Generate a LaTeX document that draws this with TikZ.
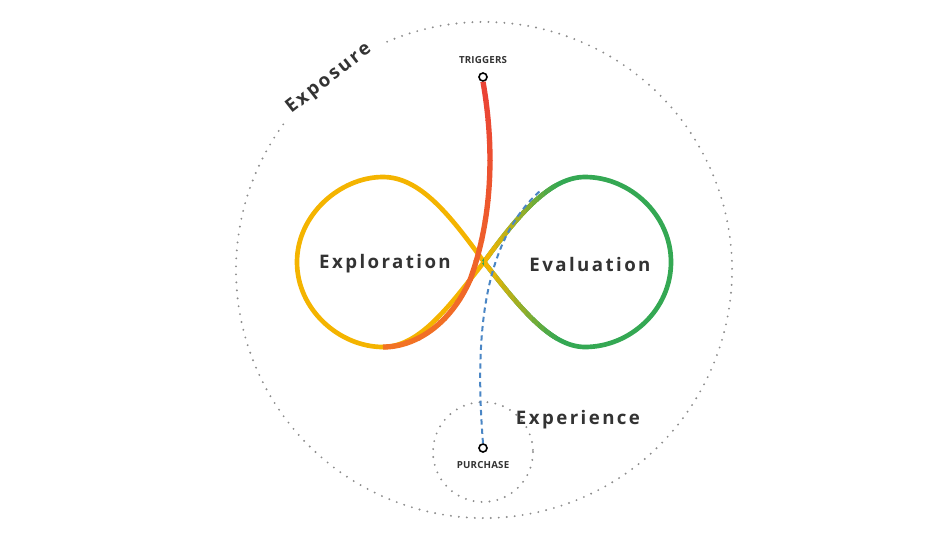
\documentclass[tikz,border=0pt]{standalone}
\usepackage{fontspec}
\usetikzlibrary{positioning}
\setmainfont{Open Sans}
\newfontfamily\lab[LetterSpace=13]{Open Sans}
\newfontfamily\smalllab[LetterSpace=2]{Open Sans}
\definecolor{gy}{HTML}{F4B400}
\definecolor{gg}{HTML}{34A853}
\definecolor{gr}{HTML}{EA4335}
\definecolor{go}{HTML}{F4801F}
\definecolor{gb}{HTML}{4A86C5}
\definecolor{tx}{HTML}{333333}
\tikzset{
  dots/.style={gray!90, line width=1.6pt, line cap=round, dash pattern=on 0pt off 6pt},
  big/.style={font=\lab\bfseries\fontsize{14}{16}\selectfont, text=tx},
  small/.style={font=\smalllab\bfseries\fontsize{7.3}{8}\selectfont, text=tx},
  endpt/.style={circle, draw=black, fill=white, line width=1.2pt, inner sep=0pt, minimum size=6pt},
}
\begin{document}
\begin{tikzpicture}[x=0.75pt,y=-0.75pt]
\useasboundingbox (0,0) rectangle (945,533);
\coordinate (C) at (484,270);
\coordinate (X) at (484,262);
% big dotted circle with gap
\draw[dots] (C) ++(-113:248) arc[start angle=-113,end angle=217,radius=248];
\node[big, rotate=38] (expo) at (329,79) {Exposure};
% small circle
\coordinate (S) at (483,452);
\draw[dots] (S) circle[radius=50];
% infinity
\def\rightloop{(X) .. controls (518,305) and (550,347) .. (585,347) .. controls (630,347) and (671,310) .. (671,262) .. controls (671,215) and (630,177) .. (585,177) .. controls (550,177) and (518,215) .. (X)}
\draw[gy, line width=3.5pt] (X) .. controls (450,215) and (420,177) .. (383,177) .. controls (340,177) and (297,215) .. (297,262) .. controls (297,310) and (340,347) .. (383,347) .. controls (420,347) and (450,305) .. (X);
\draw[gg, line width=3.5pt] \rightloop;
\foreach \i in {0,...,11}{
  \pgfmathsetmacro{\m}{100-\i*8.5}
  \begin{scope}
    \clip (484+\i*6,150) rectangle (490.5+\i*6,370);
    \draw[gy!\m!gg, line width=3.5pt] \rightloop;
  \end{scope}
}
% triggers red curve
\node[endpt] (trig) at (483,77) {};
\node[small, above=3pt of trig.north, anchor=south] (tl) {TRIGGERS};
\foreach \i in {0,...,13}{
  \pgfmathsetmacro{\m}{100-\i*6}
  \begin{scope}
    \clip (300,80+\i*20) rectangle (520,100.5+\i*20);
    \draw[gr!\m!go, line width=4pt] (trig.south) .. controls (495,150) and (492,220) .. (470,280) .. controls (450,325) and (415,347) .. (383,347);
  \end{scope}
}
% purchase blue dashed
\node[endpt] (pur) at (483,448) {};
\node[small, below=3pt of pur.south, anchor=north] (pl) {PURCHASE};
\coordinate (bend) at (540,191);
\draw[gb, line width=1.5pt, dash pattern=on 4pt off 3pt] (pur.north) .. controls (474,330) and (485,240) .. (bend);
% labels
\node[big] (explo) at (385,264) {Exploration};
\node[big] (eval) at (590,264) {Evaluation};
\node[big] (exper) at (578,420) {Experience};
\end{tikzpicture}
\end{document}
